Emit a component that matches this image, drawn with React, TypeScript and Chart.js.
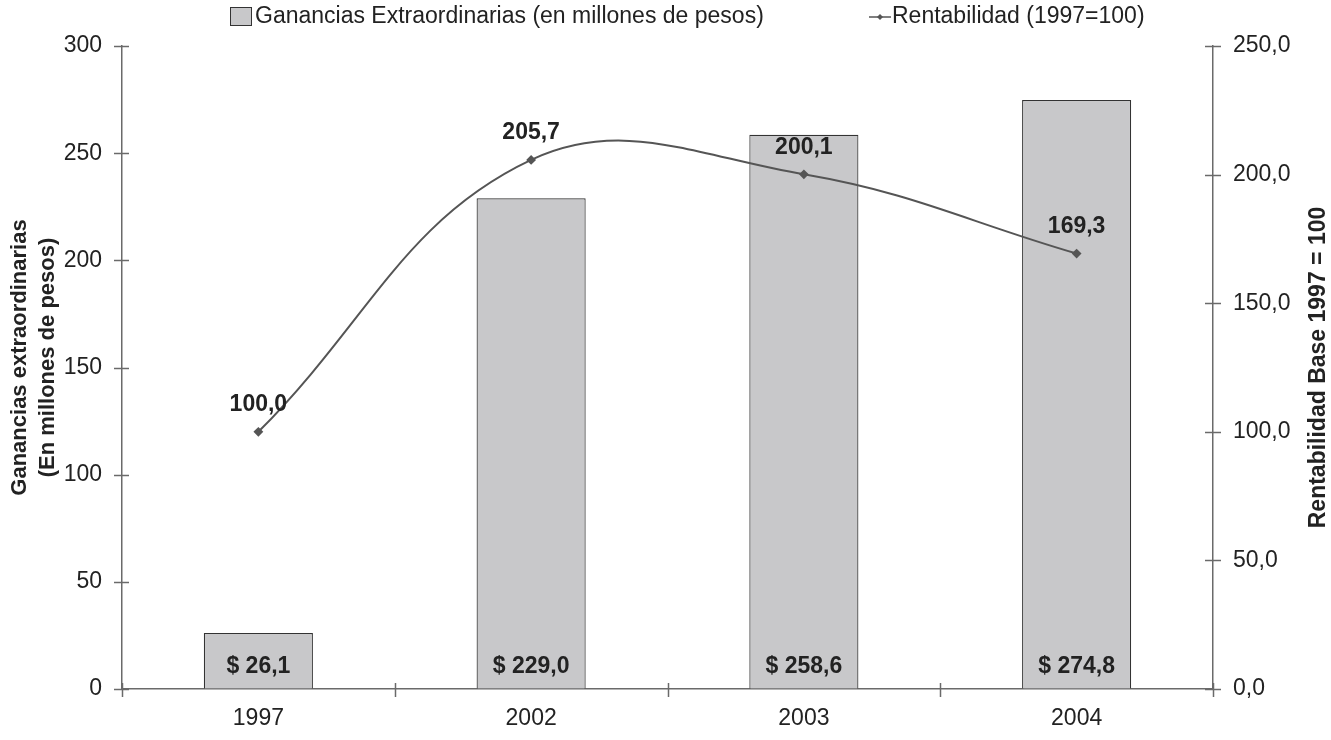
import React, { useEffect, useRef } from 'react';
import { Chart, registerables } from 'chart.js';

Chart.register(...registerables);

const years = ['1997', '2002', '2003', '2004'];
const ganancias = [26.1, 229.0, 258.6, 274.8];
const rentabilidad = [100.0, 205.7, 200.1, 169.3];
const legendBars = 'Ganancias Extraordinarias (en millones de pesos)';
const legendLine = 'Rentabilidad (1997=100)';
const leftTitle = ['Ganancias extraordinarias', '(En millones de pesos)'];
const rightTitle = 'Rentabilidad Base 1997 = 100';

const FONT = '"Liberation Sans", Arial, sans-serif';
const TEXT = '#222222';
const AXIS = '#6a6a6a';
const LINE = '#555555';
const BAR = '#c8c8ca';

const fmt1 = (v: number) => v.toFixed(1).replace('.', ',');

const overlay = {
  id: 'overlay',
  afterDraw(chart: any) {
    const ctx = chart.ctx;
    const area = chart.chartArea;
    ctx.save();
    // tick marks crossing the axes
    ctx.strokeStyle = AXIS;
    ctx.lineWidth = 1.5;
    const ys = chart.scales.y;
    ys.ticks.forEach((t: any) => {
      const py = Math.round(ys.getPixelForValue(t.value)) + 0.5;
      ctx.beginPath();
      ctx.moveTo(area.left - 8, py);
      ctx.lineTo(area.left + 7, py);
      ctx.stroke();
    });
    const y1 = chart.scales.y1;
    y1.ticks.forEach((t: any) => {
      const py = Math.round(y1.getPixelForValue(t.value)) + 0.5;
      ctx.beginPath();
      ctx.moveTo(area.right - 8, py);
      ctx.lineTo(area.right + 8, py);
      ctx.stroke();
    });
    const n = years.length;
    for (let i = 0; i <= n; i++) {
      const px = Math.round(area.left + (i * (area.right - area.left)) / n) + 0.5;
      ctx.beginPath();
      ctx.moveTo(px, area.bottom - 6);
      ctx.lineTo(px, area.bottom + 8);
      ctx.stroke();
    }
    // bar labels
    const barMeta = chart.getDatasetMeta(1);
    ctx.font = `bold 23px ${FONT}`;
    ctx.fillStyle = TEXT;
    ctx.textAlign = 'center';
    ctx.textBaseline = 'middle';
    barMeta.data.forEach((el: any, i: number) => {
      ctx.fillText('$ ' + fmt1(ganancias[i]), el.x, area.bottom - 22);
    });
    // line labels
    const lineMeta = chart.getDatasetMeta(0);
    lineMeta.data.forEach((el: any, i: number) => {
      ctx.fillText(fmt1(rentabilidad[i]), el.x, el.y - 27);
    });
    // axis titles
    const cy = (area.top + area.bottom) / 2;
    ctx.save();
    ctx.font = `bold 22px ${FONT}`;
    ctx.translate(20, cy - 10);
    ctx.rotate(-Math.PI / 2);
    ctx.fillText(leftTitle[0], 0, 0);
    ctx.fillText(leftTitle[1], 0, 28);
    ctx.restore();
    ctx.save();
    ctx.font = `bold 23px ${FONT}`;
    ctx.translate(1319, cy);
    ctx.rotate(-Math.PI / 2);
    ctx.fillText(rightTitle, 0, 0);
    ctx.restore();
    // legend
    const ly = 17;
    ctx.fillStyle = BAR;
    ctx.fillRect(231, ly - 9, 20, 17);
    ctx.strokeStyle = '#333';
    ctx.lineWidth = 1;
    ctx.strokeRect(230.5, ly - 9.5, 21, 18);
    ctx.font = `23px ${FONT}`;
    ctx.fillStyle = TEXT;
    ctx.textAlign = 'left';
    ctx.fillText(legendBars, 255, ly);
    ctx.strokeStyle = LINE;
    ctx.lineWidth = 1.5;
    ctx.beginPath();
    ctx.moveTo(869, ly);
    ctx.lineTo(891, ly);
    ctx.stroke();
    ctx.fillStyle = LINE;
    ctx.beginPath();
    ctx.moveTo(880, ly - 3);
    ctx.lineTo(883, ly);
    ctx.lineTo(880, ly + 3);
    ctx.lineTo(877, ly);
    ctx.closePath();
    ctx.fill();
    ctx.fillStyle = TEXT;
    ctx.fillText(legendLine, 892, ly);
    ctx.restore();
  },
};

export default function App() {
  const ref = useRef<HTMLCanvasElement>(null);
  useEffect(() => {
    document.body.style.margin = '0';
    const chart = new Chart(ref.current as HTMLCanvasElement, {
      type: 'bar',
      data: {
        labels: years,
        datasets: [
          {
            type: 'line',
            label: legendLine,
            data: rentabilidad,
            yAxisID: 'y1',
            borderColor: LINE,
            borderWidth: 2,
            tension: 0.4,
            pointStyle: 'rectRot',
            pointRadius: 3.5,
            pointBackgroundColor: LINE,
            pointBorderColor: LINE,
            order: 0,
          } as any,
          {
            type: 'bar',
            label: legendBars,
            data: ganancias,
            yAxisID: 'y',
            backgroundColor: BAR,
            borderColor: '#333333',
            borderWidth: 1.2,
            barPercentage: 0.4,
            categoryPercentage: 1,
            order: 1,
          },
        ],
      },
      options: {
        responsive: false,
        animation: false,
        layout: { padding: { top: 46, left: 0, right: 0, bottom: 0 } },
        plugins: { legend: { display: false }, tooltip: { enabled: false } },
        scales: {
          x: {
            offset: true,
            grid: { display: true, drawOnChartArea: false, drawTicks: false, offset: true },
            border: { color: AXIS, width: 1.5 },
            ticks: { color: TEXT, font: { family: FONT, size: 23 }, padding: 16 },
            afterFit: (s: any) => { s.height = 51; },
          },
          y: {
            position: 'left',
            min: 0,
            max: 300,
            ticks: { stepSize: 50, color: TEXT, font: { family: FONT, size: 23 }, padding: 20 },
            grid: { drawOnChartArea: false, drawTicks: false },
            border: { color: AXIS, width: 1.5 },
            afterFit: (s: any) => { s.width = 122; },
          },
          y1: {
            position: 'right',
            min: 0,
            max: 250,
            ticks: { stepSize: 50, color: TEXT, font: { family: FONT, size: 23 }, padding: 20, callback: (v: any) => fmt1(Number(v)) },
            grid: { drawOnChartArea: false, drawTicks: false },
            border: { color: AXIS, width: 1.5 },
            afterFit: (s: any) => { s.width = 118; },
          },
        },
      },
      plugins: [overlay],
    });
    return () => chart.destroy();
  }, []);
  return (
    <div style={{ position: 'absolute', left: 0, top: 0, width: 1331, height: 740, background: '#fff' }}>
      <canvas ref={ref} width={1331} height={740} />
    </div>
  );
}
